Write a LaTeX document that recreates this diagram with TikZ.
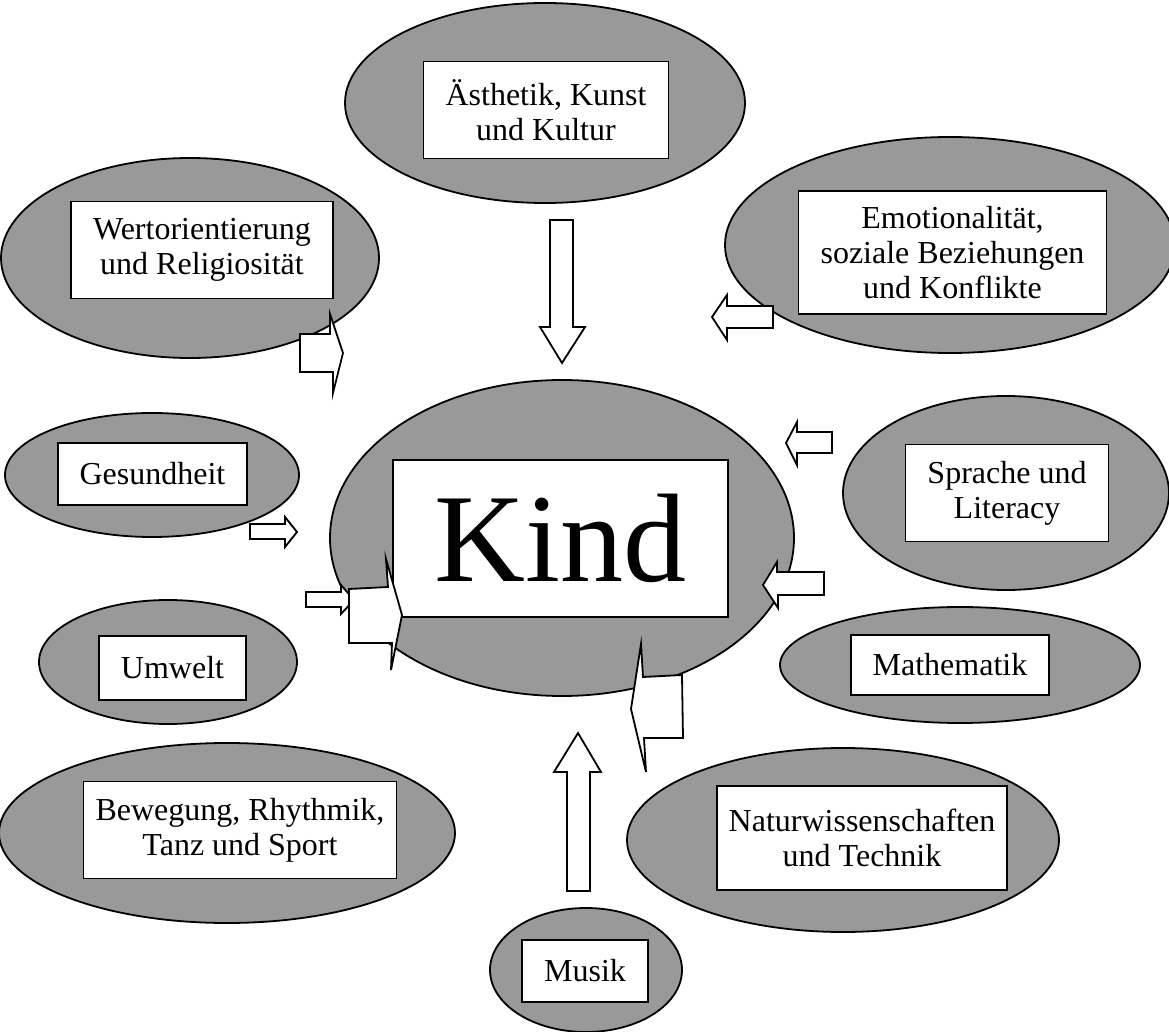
\documentclass[tikz,border=0pt]{standalone}
\usepackage{fontspec}
\setmainfont{Liberation Serif}
\usetikzlibrary{shapes.geometric}
\definecolor{blobgray}{HTML}{999999}
\begin{document}
\begin{tikzpicture}[x=0.5pt,y=-0.5pt,
  blob/.style={ellipse,draw,line width=0.9pt,fill=blobgray,inner sep=0pt},
  area/.style={rectangle,draw,line width=0.9pt,fill=white,inner xsep=11pt,inner ysep=0pt,
    align=center,font=\fontsize{16}{17.5}\selectfont},
  oneline/.style={area,minimum height=31pt},
  twolines/.style={area,minimum height=48.5pt},
  blockarrow/.style={draw,line width=0.9pt,fill=white,line join=miter}]
\useasboundingbox (0,0) rectangle (1169,1032);
% ellipses
\node[blob,minimum width=200pt,minimum height=100pt] (aestE) at (545,103) {};
\node[blob,minimum width=189pt,minimum height=100pt] (werteE) at (190,258) {};
\node[blob,minimum width=225pt,minimum height=108pt] (emoE) at (950,245) {};
\node[blob,minimum width=147pt,minimum height=62pt] (gesE) at (152,475) {};
\node[blob,minimum width=232pt,minimum height=158pt] (kindE) at (562,538) {};
\node[blob,minimum width=163pt,minimum height=97pt] (sprE) at (1006,493) {};
\node[blob,minimum width=129pt,minimum height=62pt] (umwE) at (168,662) {};
\node[blob,minimum width=180pt,minimum height=58pt] (matE) at (960,665) {};
\node[blob,minimum width=228pt,minimum height=90pt] (bewE) at (227,833) {};
\node[blob,minimum width=216pt,minimum height=92pt] (natE) at (843,840) {};
\node[blob,minimum width=96pt,minimum height=62pt] (musE) at (586,970) {};
% boxes
\node[twolines] (aest) at (546,110) {Ästhetik, Kunst\\und Kultur};
\node[twolines] (werte) at (202,250) {Wertorientierung\\und Religiosität};
\node[area,minimum height=61.5pt] (emo) at (952.5,252.5) {Emotionalität,\\soziale Beziehungen\\und Konflikte};
\node[oneline] (ges) at (152.5,474) {Gesundheit};
\node[area,minimum width=167.5pt,minimum height=78.5pt,inner xsep=0pt,font=\fontsize{63}{70}\selectfont] (kind) at (560.5,538.5) {Kind};
\node[twolines] (spr) at (1007,493) {Sprache und\\Literacy};
\node[area,minimum height=32pt] (umw) at (172.5,668) {Umwelt};
\node[area,minimum height=30pt] (mat) at (950,665) {Mathematik};
\node[twolines,inner xsep=6pt] (bew) at (240,830) {Bewegung, Rhythmik,\\Tanz und Sport};
\node[twolines,inner xsep=6pt,minimum height=52pt] (nat) at (862,838) {Naturwissenschaften\\und Technik};
\node[oneline] (mus) at (585,971) {Musik};
% arrows
\draw[blockarrow] (550,220) -- (573,220) -- (573,327) -- (585,327) -- (562,363) -- (540,327) -- (550,327) -- cycle;
\draw[blockarrow] (773,306) -- (727,306) -- (727,295) -- (712,317) -- (727,340) -- (727,328) -- (773,328) -- cycle;
\draw[blockarrow] (300,334) -- (330,334) -- (330,314) -- (343,353) -- (333,393) -- (333,372) -- (300,372) -- cycle;
\draw[blockarrow] (832,432) -- (797,432) -- (797,422) -- (786,443) -- (797,465) -- (797,453) -- (832,453) -- cycle;
\draw[blockarrow] (250,524) -- (285,524) -- (285,517) -- (297,532) -- (285,547) -- (285,539) -- (250,539) -- cycle;
\draw[blockarrow] (306,592) -- (341,592) -- (341,585) -- (354,600) -- (341,614) -- (341,607) -- (306,607) -- cycle;
\draw[blockarrow] (349,589) -- (388,587) -- (386,559) -- (402,615) -- (391,670) -- (392,643) -- (349,643) -- cycle;
\draw[blockarrow] (824,572) -- (777,572) -- (777,562) -- (763,585) -- (778,608) -- (778,595) -- (824,595) -- cycle;
\draw[blockarrow] (682,675) -- (643,677) -- (641,644) -- (631,709) -- (646,772) -- (644,738) -- (683,738) -- cycle;
\draw[blockarrow] (567,891) -- (567,772) -- (554,772) -- (578,733) -- (601,772) -- (590,772) -- (590,891) -- cycle;
\end{tikzpicture}
\end{document}
